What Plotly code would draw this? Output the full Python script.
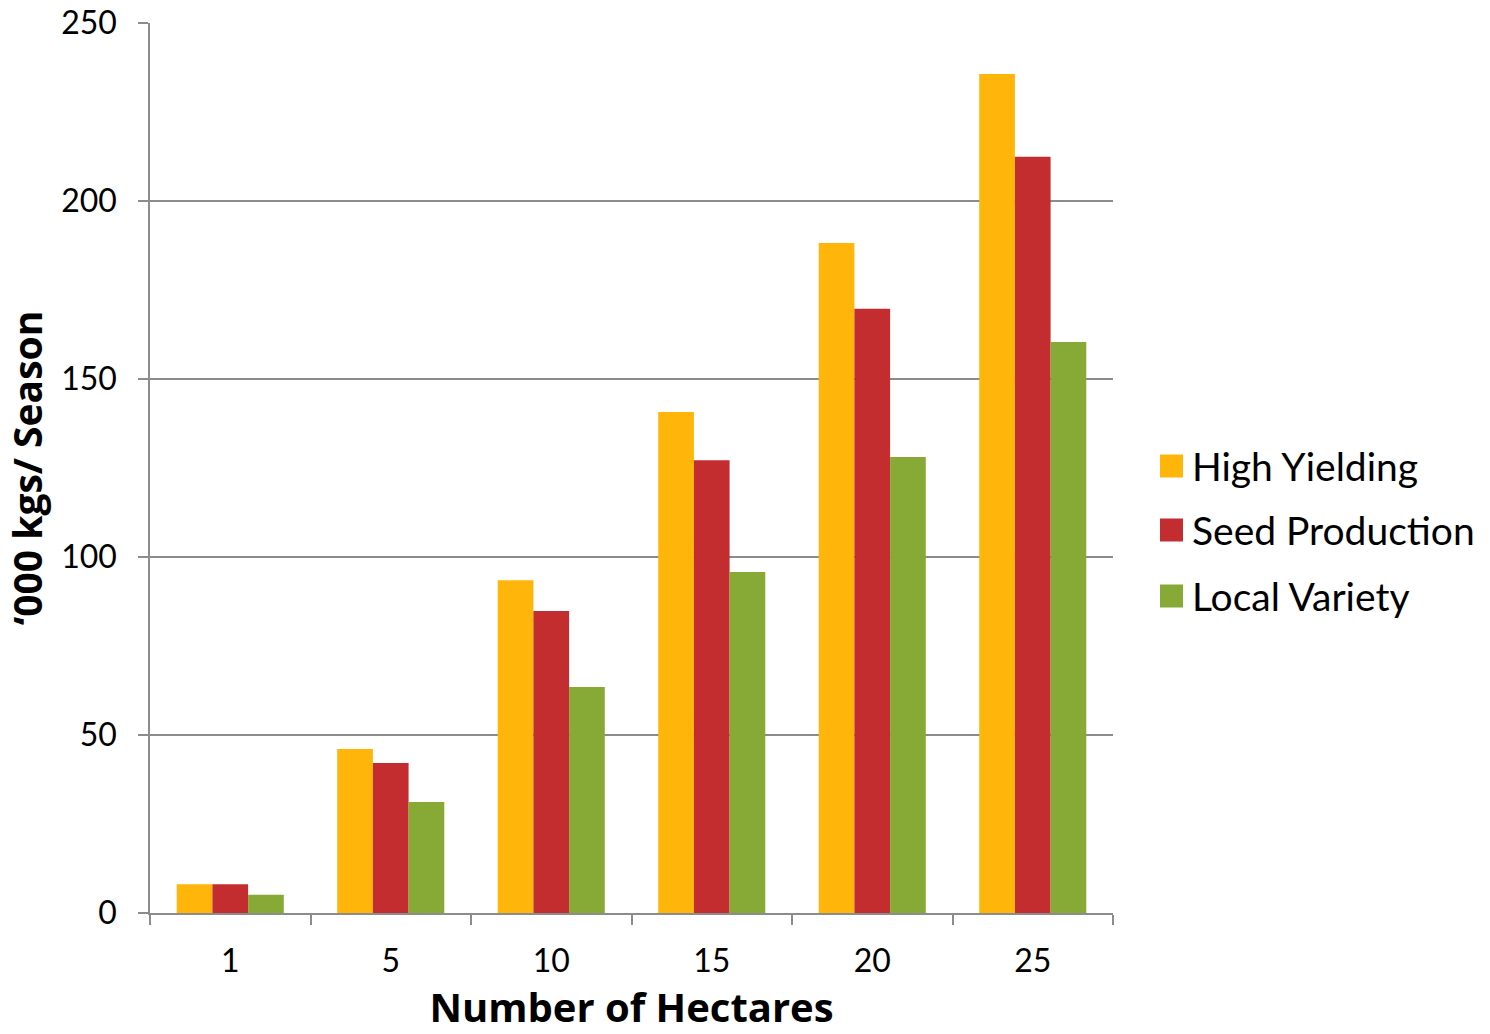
import plotly.graph_objects as go

# Harvest per season ('000 kg) by farm size
hectares = ["1", "5", "10", "15", "20", "25"]
high_yielding = [8.1, 46.1, 93.5, 140.7, 188.2, 235.7]
seed_production = [8.1, 42.1, 84.8, 127.2, 169.7, 212.4]
local_variety = [5.1, 31.2, 63.5, 95.8, 128.1, 160.4]

series_names = ["High Yielding", "Seed Production", "Local Variety"]
series_colors = ["#FFB50A", "#C42D30", "#86AA35"]
y_ticks = [0, 50, 100, 150, 200, 250]

FONT = "Lato"
TITLE_FONT = "Open Sans"
GRID = "#8C8C8C"

fig = go.Figure()
for name, vals, col in zip(series_names,
                           [high_yielding, seed_production, local_variety],
                           series_colors):
    fig.add_trace(go.Bar(x=hectares, y=vals, name=name,
                         marker=dict(color=col, line=dict(width=0)),
                         showlegend=False))

fig.update_layout(
    width=1490, height=1034,
    margin=dict(l=150, r=377, t=23, b=121, autoexpand=False),
    paper_bgcolor="white", plot_bgcolor="white",
    barmode="group", bargap=0.333, bargroupgap=0,
    font=dict(family=FONT, color="black"),
)

fig.update_xaxes(
    type="category", automargin=False,
    showline=True, linecolor=GRID, linewidth=1.5,
    ticks="outside", tickson="boundaries", ticklen=10, tickcolor=GRID, tickwidth=1.5,
    tickfont=dict(size=32, family=FONT),
    ticklabelstandoff=19,
    showgrid=False,
    title=dict(text="<b>Number of Hectares</b>", font=dict(size=40, family=TITLE_FONT), standoff=31),
)
fig.update_yaxes(
    range=[0, 250], tickvals=y_ticks, automargin=False,
    showline=True, linecolor=GRID, linewidth=1.5,
    ticks="outside", ticklen=10, tickcolor=GRID, tickwidth=1.5,
    showgrid=True, gridcolor=GRID, gridwidth=1.5,
    zeroline=False,
    tickfont=dict(size=32, family=FONT),
    ticklabelstandoff=15,
    title=dict(text="<b>‘000 kgs/ Season</b>", font=dict(size=39, family=TITLE_FONT), standoff=12),
)

# Legend: coloured squares with labels to the right of the plot area
plot_left, plot_right, plot_top, plot_bottom = 150, 1113, 23, 913
pw, ph = plot_right - plot_left, plot_bottom - plot_top

def px_x(x):
    return (x - plot_left) / pw

def px_y(y):
    return (plot_bottom - y) / ph

legend_centers = [466, 530, 596]
for name, col, cy in zip(series_names, series_colors, legend_centers):
    fig.add_shape(type="rect", xref="paper", yref="paper",
                  x0=px_x(1160), x1=px_x(1183), y0=px_y(cy + 11.5), y1=px_y(cy - 11.5),
                  fillcolor=col, line=dict(width=0))
    fig.add_annotation(xref="paper", yref="paper", x=px_x(1190), y=px_y(cy),
                       text=name, showarrow=False, xanchor="left", yanchor="middle",
                       font=dict(size=39, family=FONT, color="black"))

fig.write_html("out.html")
